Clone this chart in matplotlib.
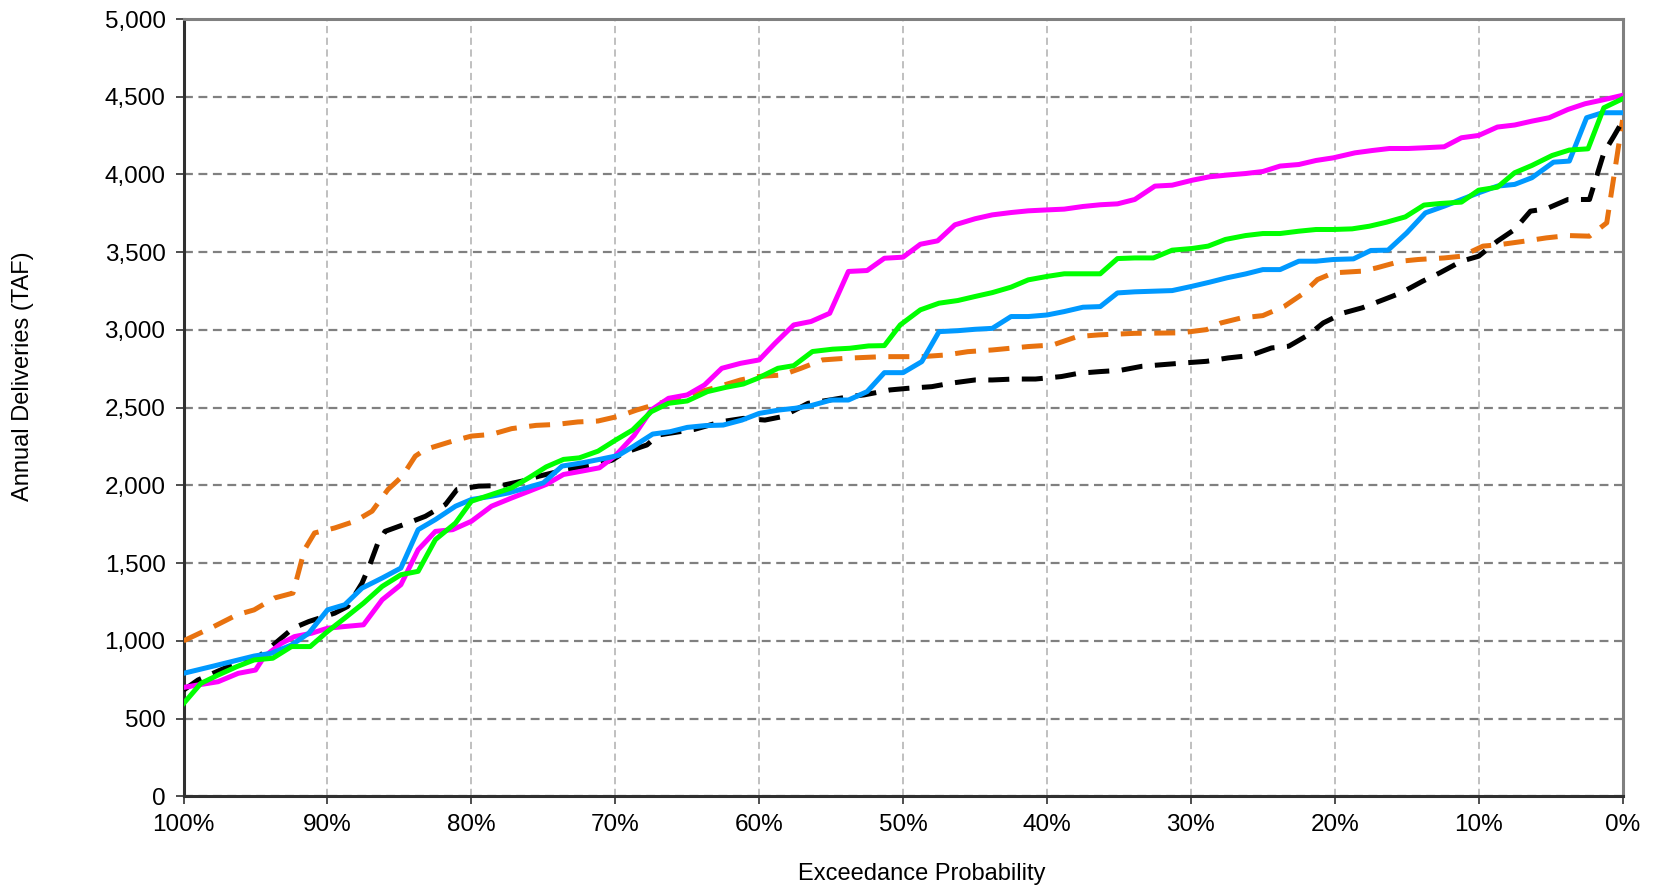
import matplotlib
matplotlib.use("Agg")
import matplotlib.pyplot as plt
from matplotlib.ticker import FuncFormatter

# ---- data: exceedance probability (%) and annual deliveries (TAF) ----
magenta_p = [100, 99.0, 97.6, 96.2, 95.0, 94.4, 93.2, 92.3, 91.1, 90.0, 88.8, 87.5, 86.2, 84.9, 83.7, 82.5,
             81.3, 80.0, 78.6, 77.2, 76.0, 74.8, 73.6, 72.3, 71.1, 70.0, 68.7, 67.5, 66.3, 65.0, 63.8, 62.6,
             61.3, 60.0, 58.9, 57.6, 56.4, 55.1, 53.8, 52.5, 51.3, 50.0, 48.8, 47.6, 46.4, 45.0, 43.8, 42.5,
             41.3, 40.0, 38.8, 37.5, 36.3, 35.1, 33.9, 32.5, 31.3, 29.9, 28.7, 27.5, 26.2, 25.0, 23.8, 22.5,
             21.3, 20.1, 18.6, 17.4, 16.2, 14.9, 13.7, 12.4, 11.2, 10.0, 8.7, 7.5, 6.3, 5.1, 3.8, 2.6, 1.4, 0]
magenta_v = [700, 716, 737, 791, 812, 898, 984, 1027, 1049, 1081, 1092, 1103, 1264, 1361, 1586, 1704,
             1715, 1769, 1866, 1919, 1962, 2006, 2070, 2092, 2113, 2190, 2320, 2485, 2560, 2582, 2646, 2753,
             2785, 2807, 2914, 3032, 3054, 3107, 3376, 3382, 3461, 3468, 3551, 3573, 3676, 3715, 3740, 3755,
             3766, 3772, 3777, 3794, 3805, 3811, 3839, 3925, 3931, 3963, 3985, 3996, 4006, 4019, 4054, 4064,
             4090, 4107, 4139, 4154, 4167, 4167, 4172, 4178, 4236, 4251, 4305, 4318, 4343, 4365, 4418, 4455, 4479, 4509]

green_p = [100, 98.8, 97.6, 96.3, 95.1, 93.8, 92.5, 91.2, 90.0, 88.8, 87.5, 86.2, 84.9, 83.7, 82.5, 81.1,
           80.0, 78.6, 77.2, 76.0, 74.8, 73.6, 72.5, 71.2, 70.0, 68.8, 67.5, 66.3, 65.0, 63.6, 62.3, 61.1,
           60.1, 58.7, 57.6, 56.3, 54.9, 53.7, 52.4, 51.3, 50.2, 48.8, 47.5, 46.2, 45.0, 43.8, 42.5, 41.3,
           40.0, 38.8, 37.5, 36.3, 35.1, 33.9, 32.6, 31.3, 29.9, 28.8, 27.6, 26.2, 25.0, 23.8, 22.5, 21.3,
           20.1, 18.8, 17.6, 16.4, 15.1, 13.8, 12.7, 11.2, 10.0, 8.7, 7.5, 6.3, 4.9, 3.7, 2.4, 1.3, 0]
green_v = [597, 726, 780, 834, 877, 888, 963, 963, 1060, 1146, 1242, 1350, 1425, 1447, 1651, 1758,
           1898, 1941, 1984, 2049, 2119, 2167, 2177, 2220, 2290, 2356, 2474, 2528, 2543, 2603, 2631, 2652,
           2689, 2753, 2770, 2861, 2876, 2882, 2897, 2899, 3032, 3129, 3172, 3189, 3215, 3240, 3275, 3322,
           3344, 3361, 3361, 3361, 3459, 3463, 3463, 3513, 3524, 3539, 3582, 3607, 3620, 3620, 3635, 3646,
           3646, 3650, 3667, 3693, 3727, 3803, 3813, 3822, 3899, 3918, 4011, 4058, 4122, 4157, 4165, 4429, 4487]

blue_p = [100, 97.9, 96.2, 95.1, 93.9, 92.5, 91.3, 90.0, 88.8, 87.6, 86.2, 84.9, 83.7, 82.5, 81.1, 80.0,
          78.6, 77.4, 76.2, 75.0, 73.7, 72.3, 71.1, 69.8, 68.7, 67.4, 66.2, 65.0, 63.8, 62.5, 61.2, 60.0,
          58.6, 57.5, 56.4, 55.0, 53.8, 52.5, 51.3, 50.0, 48.7, 47.5, 46.2, 45.0, 43.8, 42.5, 41.3, 40.0,
          38.8, 37.5, 36.3, 35.1, 33.9, 32.6, 31.3, 29.9, 28.7, 27.5, 26.2, 25.0, 23.8, 22.5, 21.3, 20.1,
          18.7, 17.5, 16.3, 15.0, 13.7, 12.4, 11.2, 10.0, 8.7, 7.5, 6.3, 4.8, 3.7, 2.5, 1.4, 0]
blue_v = [791, 838, 877, 902, 920, 973, 1049, 1199, 1232, 1339, 1404, 1468, 1715, 1780, 1866, 1909,
          1930, 1952, 1984, 2016, 2124, 2145, 2167, 2192, 2253, 2330, 2345, 2373, 2384, 2388, 2420, 2463,
          2485, 2496, 2513, 2549, 2549, 2603, 2725, 2725, 2796, 2989, 2995, 3004, 3010, 3086, 3086, 3096,
          3118, 3146, 3150, 3238, 3245, 3249, 3253, 3281, 3307, 3335, 3360, 3388, 3388, 3442, 3442, 3453,
          3457, 3511, 3513, 3624, 3753, 3796, 3839, 3882, 3925, 3936, 3979, 4079, 4086, 4365, 4397, 4397]

orange_p = [100, 97.9, 96.3, 95.1, 93.7, 92.4, 92.0, 91.6, 90.9, 89.5, 88.1, 86.9, 85.8, 84.8, 83.9, 83.2,
            81.3, 80.0, 78.6, 77.2, 75.5, 74.1, 72.6, 71.2, 69.7, 68.5, 66.5, 65.0, 63.0, 61.3, 60.1, 58.4,
            57.1, 55.6, 53.9, 51.4, 48.7, 47.0, 45.5, 43.8, 41.3, 39.6, 37.9, 36.4, 33.9, 30.7, 28.9, 27.9,
            26.5, 25.0, 23.5, 22.3, 21.2, 20.1, 18.1, 17.1, 15.4, 14.2, 12.4, 11.2, 9.7, 8.5, 6.8, 5.3,
            3.8, 2.3, 1.1, 0.6, 0]
orange_v = [1000, 1092, 1167, 1199, 1275, 1307, 1446, 1586, 1694, 1726, 1769, 1834, 1973, 2059, 2188, 2231,
            2285, 2317, 2328, 2365, 2386, 2392, 2408, 2414, 2446, 2485, 2540, 2580, 2630, 2678, 2700, 2710,
            2753, 2807, 2818, 2828, 2828, 2839, 2860, 2871, 2893, 2903, 2957, 2968, 2978, 2981, 3002, 3045,
            3077, 3092, 3152, 3227, 3324, 3367, 3378, 3399, 3442, 3453, 3463, 3474, 3539, 3549, 3571, 3592,
            3607, 3603, 3689, 3989, 4350]

black_p = [100, 99.0, 97.0, 94.8, 93.9, 92.4, 91.3, 89.5, 88.6, 87.6, 87.1, 86.5, 86.0, 84.4, 83.2, 81.8,
           81.0, 79.5, 77.9, 76.5, 75.3, 73.5, 71.0, 70.2, 69.5, 67.8, 67.0, 64.5, 62.6, 61.1, 59.6, 58.4,
           56.6, 55.1, 53.7, 52.7, 50.9, 49.7, 48.0, 46.7, 45.0, 43.8, 42.3, 40.8, 39.0, 37.8, 36.3, 34.9,
           33.4, 31.9, 30.4, 28.9, 27.4, 25.9, 24.4, 23.2, 21.8, 20.8, 19.4, 18.1, 16.6, 15.4, 13.9, 12.7,
           11.2, 10.0, 8.7, 7.5, 6.4, 5.3, 3.8, 2.3, 1.8, 1.3, 0.6, 0]
black_v = [683, 748, 830, 898, 963, 1081, 1124, 1178, 1221, 1371, 1479, 1629, 1704, 1758, 1801, 1877,
           1973, 1995, 1999, 2027, 2059, 2100, 2142, 2163, 2206, 2260, 2324, 2360, 2410, 2431, 2420, 2442,
           2528, 2549, 2571, 2582, 2614, 2624, 2635, 2657, 2678, 2678, 2684, 2684, 2700, 2721, 2732, 2740,
           2766, 2777, 2788, 2798, 2820, 2835, 2884, 2895, 2970, 3045, 3109, 3142, 3195, 3238, 3313, 3367,
           3442, 3474, 3571, 3646, 3764, 3779, 3839, 3839, 3989, 4139, 4247, 4343]

x_ticks = [100, 90, 80, 70, 60, 50, 40, 30, 20, 10, 0]
y_ticks = [0, 500, 1000, 1500, 2000, 2500, 3000, 3500, 4000, 4500, 5000]

plt.rcParams['font.family'] = ['Liberation Sans', 'DejaVu Sans']

fig = plt.figure(figsize=(16.54, 8.88), dpi=100)
ax = fig.add_axes([0.111, 0.1033, 0.870, 0.8753])

lw = 3.6
ax.plot(orange_p, orange_v, color='#E8720F', lw=lw, dashes=(4.2, 2.5), zorder=3)
ax.plot(black_p, black_v, color='#000000', lw=lw, dashes=(4.2, 2.5), zorder=3)
ax.plot(magenta_p, magenta_v, color='#FF00FF', lw=lw, zorder=4)
ax.plot(blue_p, blue_v, color='#0099FF', lw=lw, zorder=5)
ax.plot(green_p, green_v, color='#00FF00', lw=lw, zorder=6)

ax.set_xlim(100, 0)
ax.set_ylim(0, 5000)
ax.set_xticks(x_ticks)
ax.set_yticks(y_ticks)
ax.xaxis.set_major_formatter(FuncFormatter(lambda v, _: f"{int(round(v))}%"))
ax.yaxis.set_major_formatter(FuncFormatter(lambda v, _: f"{int(round(v)):,}"))

ax.yaxis.grid(True, color='#808080', linestyle=(0, (4, 2.5)), linewidth=1.6, zorder=1)
ax.xaxis.grid(True, color='#BBBBBB', linestyle=(0, (4, 2.5)), linewidth=1.3, zorder=1)
ax.set_axisbelow(True)

for side in ['top', 'right']:
    ax.spines[side].set_color('#808080')
    ax.spines[side].set_linewidth(2.2)
for side in ['left', 'bottom']:
    ax.spines[side].set_color('#303030')
    ax.spines[side].set_linewidth(2.2)

ax.tick_params(axis='both', direction='out', length=6, width=1.2, color='#303030',
               labelsize=17.5, pad=7)

ax.set_xlabel('Exceedance Probability', fontsize=17)
ax.set_ylabel('Annual Deliveries (TAF)', fontsize=17)
ax.xaxis.set_label_coords(0.513, -0.086)
ax.yaxis.set_label_coords(-0.104, 0.541)

fig.savefig('out.png', dpi=100, facecolor='white')
